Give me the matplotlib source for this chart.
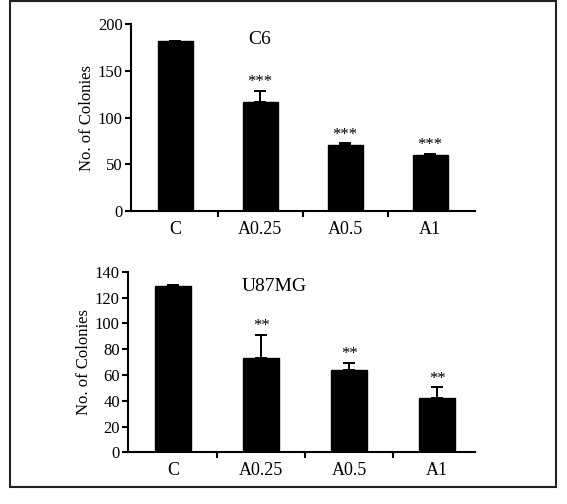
import matplotlib
matplotlib.use("Agg")
import matplotlib.pyplot as plt
from matplotlib.patches import Rectangle

plt.rcParams["font.family"] = ["Liberation Serif", "DejaVu Serif"]

groups = ["C", "A0.25", "A0.5", "A1"]

c6_means = [182, 117, 71, 60]
c6_err = [0, 12, 1.5, 1.5]
c6_stars = ["", "***", "***", "***"]

u87_means = [129, 73, 64, 42]
u87_err = [1, 18, 5.5, 8.5]
u87_stars = ["", "**", "**", "**"]

fig = plt.figure(figsize=(5.67, 5.04), dpi=100)

# outer frame around the whole figure
fig.patches.append(Rectangle((10 / 567, 1 - 487 / 504), 546 / 567, 486 / 504,
                             transform=fig.transFigure, fill=False,
                             edgecolor="#222222", linewidth=1.5))


def draw_panel(ax, means, errs, stars, title, ymax, ystep, xlim, title_x, star_pad):
    x = list(range(len(groups)))
    ax.bar(x, means, width=0.41, color="black", edgecolor="black")
    ax.errorbar(x, means, yerr=[[0] * len(errs), errs], fmt="none",
                ecolor="black", elinewidth=1.4, capsize=4.5, capthick=1.4)
    for xi, m, e, s in zip(x, means, errs, stars):
        if s:
            ax.text(xi, m + e + star_pad, s, ha="center", va="bottom", fontsize=12)
    ax.set_xlim(*xlim)
    ax.set_ylim(0, ymax)
    ax.set_yticks(range(0, ymax + 1, ystep))
    ax.set_xticks([0.5, 1.5, 2.5])
    ax.set_xticklabels([])
    ax.tick_params(axis="x", length=4, width=1.5, direction="out")
    ax.tick_params(axis="y", length=4, width=1.5, direction="out", labelsize=12, pad=2)
    for xi, g in zip(x, groups):
        ax.text(xi, -0.055, g, transform=ax.get_xaxis_transform(),
                ha="center", va="top", fontsize=13)
    for side in ["top", "right"]:
        ax.spines[side].set_visible(False)
    for side in ["left", "bottom"]:
        ax.spines[side].set_linewidth(1.5)
    ax.set_ylabel("No. of Colonies", fontsize=12, labelpad=2)
    ax.text(title_x, 0.92, title, transform=ax.transAxes, ha="center",
            va="center", fontsize=14)


ax1 = fig.add_axes([0.231, 0.581, 0.607, 0.371])
draw_panel(ax1, c6_means, c6_err, c6_stars, "C6", 200, 50,
           (-0.52, 3.53), 0.375, 0.5)

ax2 = fig.add_axes([0.226, 0.1026, 0.612, 0.358])
draw_panel(ax2, u87_means, u87_err, u87_stars, "U87MG", 140, 20,
           (-0.51, 3.43), 0.42, 0.5)

fig.savefig("out.png", dpi=100)
